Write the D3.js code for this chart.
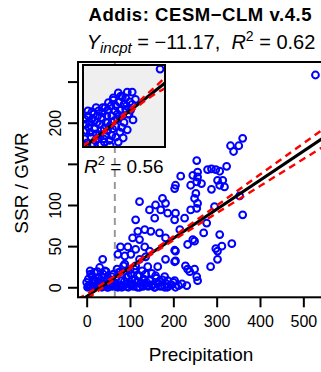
<!DOCTYPE html>
<html>
<head>
<meta charset="utf-8">
<script src="https://cdn.jsdelivr.net/npm/d3@7"></script>
<style>
  body { margin: 0; background: #fff; }
  svg { display: block; font-family: "Liberation Sans", Arial, sans-serif; }
</style>
</head>
<body>
<div id="chart"></div>
<script>
// main scatter: precipitation vs SSR / GWR
const precip = [
  528, 360, 332, 351, 339, 254, 279, 288, 298, 307,
  323, 256, 256, 254, 265, 302, 314, 307, 318, 288,
  249, 256, 254, 295, 353, 360, 277, 270, 307, 335,
  312, 298, 302, 302, 286, 249, 249, 254, 256, 217,
  245, 205, 203, 240, 252, 122, 175, 159, 182, 145,
  171, 205, 187, 203, 226, 240, 157, 113, 118, 134,
  148, 168, 182, 215, 106, 122, 78, 95, 113, 134,
  145, 72, 88, 102, 122, 136, 37, 9, 25, 42,
  88, 113, 141, 164, 78, 102, 122, 136, 205, 233,
  245, 205, 182, 228, 233, 238, 159, 180, 203, 187,
  231, 203, 203,
  // low values band
  2, 6, 10, 14, 18, 22, 26, 30, 35, 40, 45, 50, 55, 60, 66, 72, 78, 84, 90, 96,
  102, 108, 115, 122, 128, 135, 142, 150, 158, 165, 172, 180, 188, 196, 205, 212, 220,
  4, 12, 20, 28, 38, 48, 58, 68, 80, 92, 105, 118, 132, 146, 160, 175,
  8, 18, 30, 45, 70, 85, 100,
  0, 8, 16, 24, 33, 43, 53, 63, 75, 87, 99, 112, 125, 138, 153, 168, 184, 200,
  5, 15, 25, 36, 47, 58, 69, 81, 93, 104, 117, 130, 143, 156, 170, 186,
  62, 74, 96, 110, 128, 150, 35, 55
];
const ssr = [
  258, 181, 172, 172, 165, 154, 143, 144, 143, 141,
  147, 140, 134, 128, 126, 130, 130, 124, 122, 119,
  108, 102, 96, 98, 111, 88, 78, 66, 64, 53,
  50, 47, 44, 34, 25, 56, 22, 13, 8, 135,
  136, 124, 120, 124, 114, 104, 108, 100, 102, 94,
  94, 90, 90, 82, 84, 94, 84, 82, 68, 70,
  68, 66, 60, 70, 60, 58, 49, 49, 46, 49,
  44, 40, 38, 40, 34, 37, 34, 16, 19, 20,
  28, 26, 25, 25, 19, 16, 14, 16, 44, 52,
  58, 32, 34, 26, 22, 19, 14, 13, 8, 8,
  2, 31, 45,
  0, 3, 1, 5, 0, 2, 6, 1, 0, 4, 2, 0, 3, 1, 5, 0, 2, 1, 4, 0,
  3, 1, 6, 0, 2, 4, 1, 3, 0, 5, 2, 0, 1, 3, 0, 2, 4,
  10, 14, 8, 12, 16, 9, 13, 11, 8, 12, 9, 14, 10, 8, 11, 9,
  20, 18, 24, 19, 22, 26, 21,
  6, 2, 9, 4, 7, 3, 8, 5, 2, 7, 4, 9, 5, 6, 3, 7, 4, 6,
  1, 0, 2, 1, 0, 2, 1, 0, 1, 2, 0, 1, 2, 0, 1, 0,
  16, 18, 14, 22, 20, 17, 12, 6
];

// fit
const intercept = -11.17;
const slope = 0.353;
const r2 = "0.62";
// confidence band
const ciX = [-20, 0, 60, 120, 200, 300, 400, 550];
const ciUpper = [-14.6, -8.1, 12.0, 32.8, 61.8, 99.3, 137.0, 193.8];
const ciLower = [-21.8, -14.3, 8.0, 29.6, 57.0, 90.1, 123.0, 172.2];
const meanPrecip = 65;

const xTicks = [0, 100, 200, 300, 400, 500];
const yTicks = [0, 50, 100, 150, 200, 250];
const yTickLabels = ["0", "50", "100", "", "200", ""];

// inset (relative units)
const inX = [94, 11, 24, 37, 43, 54, 60, 48, 61, 54, 49, 43, 33,
  5, 10, 15, 20, 25, 30, 35, 40, 45, 50, 55, 45, 35, 28, 20, 14, 8, 4,
  18, 30, 40, 50, 57, 38, 26, 12, 22, 2, 48, 42, 16, 6, 32, 58, 52, 64,
  3, 7, 11, 17, 23, 29, 33, 39, 44, 9, 13, 19, 27, 31, 37, 46, 52, 22,
  6, 14, 24, 34, 42, 53, 60, 18, 28, 36, 47, 10, 16, 26, 40, 56, 2, 30];
const inY = [95, 43, 48, 57, 66, 67, 67, 61, 33, 21, 11, 6, 2,
  5, 12, 8, 15, 10, 20, 14, 25, 18, 30, 40, 45, 38, 30, 28, 22, 30, 20,
  38, 45, 50, 52, 55, 32, 22, 4, 3, 10, 38, 40, 48, 38, 8, 45, 60, 58,
  28, 24, 34, 30, 36, 38, 26, 44, 55, 18, 40, 44, 48, 54, 60, 62, 46, 20,
  44, 32, 42, 50, 34, 50, 52, 10, 14, 22, 24, 2, 16, 6, 12, 40, 34, 30];
const inIntercept = -1;
const inSlope = 0.79;
const inR2 = "0.56";
const inCiX = [0, 20, 40, 60, 80, 100];
const inCiUp = [1.5, 15.8, 31.8, 48.5, 66.0, 84.5];
const inCiLo = [-3.5, 12.0, 29.4, 44.3, 59.6, 71.5];

const W = 321, H = 372;
const plot = { left: 78, right: 325, top: 62, bottom: 297.3 };

const svg = d3.select("#chart").append("svg")
  .attr("width", W).attr("height", H);

const x = d3.scaleLinear().domain([-20, 550]).range([plot.left, plot.right]);
const y = d3.scaleLinear().domain([-12.2, 273.8]).range([plot.bottom, plot.top]);

svg.append("defs").append("clipPath").attr("id", "clipMain")
  .append("rect")
  .attr("x", plot.left).attr("y", plot.top)
  .attr("width", plot.right - plot.left).attr("height", plot.bottom - plot.top);

const main = svg.append("g").attr("clip-path", "url(#clipMain)");

// vertical mean line
main.append("line")
  .attr("x1", x(meanPrecip)).attr("x2", x(meanPrecip))
  .attr("y1", plot.top).attr("y2", plot.bottom)
  .attr("stroke", "#999").attr("stroke-width", 2)
  .attr("stroke-dasharray", "7,5");

// points
main.append("g").selectAll("circle")
  .data(d3.zip(precip, ssr))
  .join("circle")
  .attr("cx", d => x(d[0]))
  .attr("cy", d => y(d[1]))
  .attr("r", 3.4)
  .attr("fill", "none")
  .attr("stroke", "#0000ff")
  .attr("stroke-width", 2);

// regression line
main.append("line")
  .attr("x1", x(-20)).attr("y1", y(intercept + slope * -20))
  .attr("x2", x(550)).attr("y2", y(intercept + slope * 550))
  .attr("stroke", "#000").attr("stroke-width", 3);

const ciLine = d3.line().curve(d3.curveMonotoneX);
[ciUpper, ciLower].forEach(arr => {
  main.append("path")
    .attr("d", ciLine(ciX.map((v, i) => [x(v), y(arr[i])])))
    .attr("fill", "none")
    .attr("stroke", "#ff0000").attr("stroke-width", 2.4)
    .attr("stroke-dasharray", "7,5");
});

// box
svg.append("rect")
  .attr("x", plot.left).attr("y", plot.top)
  .attr("width", plot.right - plot.left).attr("height", plot.bottom - plot.top)
  .attr("fill", "none").attr("stroke", "#000").attr("stroke-width", 2);

// axes
const xAxis = svg.append("g")
  .attr("transform", `translate(0,${plot.bottom})`)
  .call(d3.axisBottom(x).tickValues(xTicks).tickSize(10).tickPadding(5));
const yAxis = svg.append("g")
  .attr("transform", `translate(${plot.left},0)`)
  .call(d3.axisLeft(y).tickValues(yTicks).tickSize(10)
    .tickFormat((d, i) => yTickLabels[i]));

[xAxis, yAxis].forEach(g => {
  g.select(".domain").remove();
  g.selectAll(".tick line").attr("stroke", "#000").attr("stroke-width", 2);
  g.selectAll(".tick text")
    .attr("fill", "#000")
    .style("font-size", "16px")
    .style("font-family", "'Liberation Sans', Arial, sans-serif");
});
xAxis.selectAll(".tick text").attr("dy", null).attr("y", 0)
  .attr("transform", "translate(0,30)");
yAxis.selectAll(".tick text")
  .attr("x", 0).attr("dy", 0)
  .attr("text-anchor", "middle")
  .attr("transform", "translate(-17,0) rotate(-90)");

// inset
const inset = { left: 83, right: 165, top: 65, bottom: 147 };
const ix = d3.scaleLinear().domain([0, 100]).range([inset.left, inset.right]);
const iy = d3.scaleLinear().domain([0, 100]).range([inset.bottom, inset.top]);

svg.select("defs").append("clipPath").attr("id", "clipInset")
  .append("rect")
  .attr("x", inset.left).attr("y", inset.top)
  .attr("width", inset.right - inset.left).attr("height", inset.bottom - inset.top);

svg.append("rect")
  .attr("x", inset.left).attr("y", inset.top)
  .attr("width", inset.right - inset.left).attr("height", inset.bottom - inset.top)
  .attr("fill", "#efefef");

const ins = svg.append("g").attr("clip-path", "url(#clipInset)");
ins.append("g").selectAll("circle")
  .data(d3.zip(inX, inY))
  .join("circle")
  .attr("cx", d => ix(d[0]))
  .attr("cy", d => iy(d[1]))
  .attr("r", 3.4)
  .attr("fill", "none")
  .attr("stroke", "#0000ff")
  .attr("stroke-width", 2);
ins.append("line")
  .attr("x1", ix(0)).attr("y1", iy(inIntercept))
  .attr("x2", ix(100)).attr("y2", iy(inIntercept + inSlope * 100))
  .attr("stroke", "#000").attr("stroke-width", 3);
[inCiUp, inCiLo].forEach(arr => {
  ins.append("path")
    .attr("d", ciLine(inCiX.map((v, i) => [ix(v), iy(arr[i])])))
    .attr("fill", "none")
    .attr("stroke", "#ff0000").attr("stroke-width", 2.4)
    .attr("stroke-dasharray", "7,5");
});
svg.append("rect")
  .attr("x", inset.left).attr("y", inset.top)
  .attr("width", inset.right - inset.left).attr("height", inset.bottom - inset.top)
  .attr("fill", "none").attr("stroke", "#000").attr("stroke-width", 2);

// inset R2 label
const inLab = svg.append("text")
  .attr("x", 84).attr("y", 173)
  .style("font-size", "19px").attr("fill", "#000");
inLab.append("tspan").attr("font-style", "italic").text("R");
inLab.append("tspan").attr("dy", -8).style("font-size", "13px").text("2");
inLab.append("tspan").attr("dy", 8).text(" = " + inR2);

// titles
svg.append("text")
  .attr("x", 200).attr("y", 21)
  .attr("text-anchor", "middle")
  .attr("textLength", 223).attr("lengthAdjust", "spacing")
  .style("font-size", "18.5px").style("font-weight", "bold")
  .text("Addis: CESM\u2212CLM v.4.5");

const sub = svg.append("text")
  .attr("x", 201).attr("y", 49)
  .attr("text-anchor", "middle")
  .style("font-size", "20px").attr("fill", "#000");
sub.append("tspan").attr("font-style", "italic").text("Y");
sub.append("tspan").attr("font-style", "italic").attr("dy", 4)
  .style("font-size", "15px").text("incpt");
sub.append("tspan").attr("dy", -4).text(" = \u221211.17,\u00a0\u00a0");
sub.append("tspan").attr("font-style", "italic").text("R");
sub.append("tspan").attr("dy", -8).style("font-size", "14px").text("2");
sub.append("tspan").attr("dy", 8).text(" = " + r2);

// axis titles
svg.append("text")
  .attr("x", 201).attr("y", 361)
  .attr("text-anchor", "middle")
  .style("font-size", "19px")
  .text("Precipitation");
svg.append("text")
  .attr("transform", `translate(28,183) rotate(-90)`)
  .attr("text-anchor", "middle")
  .style("font-size", "19px")
  .text("SSR / GWR");
</script>
</body>
</html>
